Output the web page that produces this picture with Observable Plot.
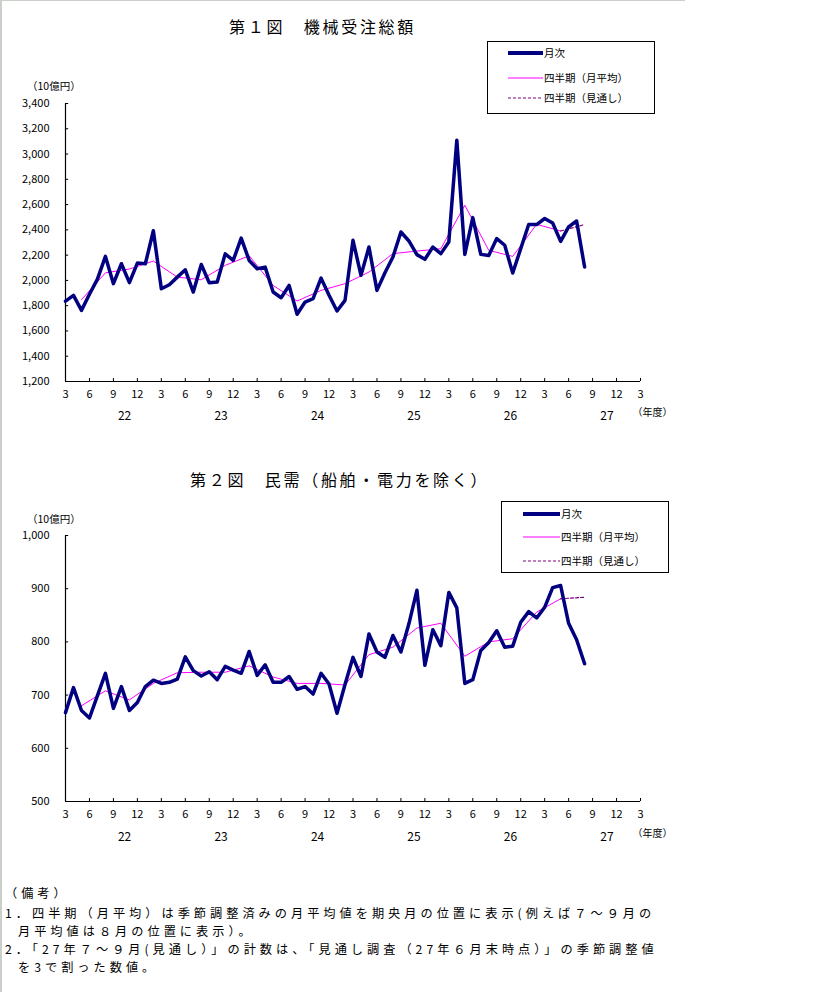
<!DOCTYPE html>
<html><head><meta charset="utf-8">
<script src="https://cdn.jsdelivr.net/npm/d3@7"></script>
<script src="https://cdn.jsdelivr.net/npm/@observablehq/plot@0.6"></script>
<style>
body{margin:0;background:#fff;font-family:"Noto Sans CJK JP",sans-serif;color:#000;}
#page{position:relative;width:819px;height:992px;overflow:hidden;background:#fff;}
.abs{position:absolute;white-space:nowrap;}
.title{font-size:16px;line-height:18px;letter-spacing:2.7px;}
.unit{font-size:10.5px;line-height:11px;}
.note{font-size:12.2px;line-height:14px;letter-spacing:4px;}
.lg{position:absolute;border:1px solid #000;box-sizing:border-box;background:#fff;}
.lgt{position:absolute;font-size:10.5px;line-height:12px;white-space:nowrap;}
</style></head><body><div id="page"></div>
<script>
// ---- data (monthly series start at March 2010, fiscal year 22) ----
const monthLabels = ["3","6","9","12"];
const fyLabels = ["22","23","24","25","26","27"];

const totalMonthly = [1836,1881,1763,1890,2010,2190,1974,2132,1982,2137,
  2132,2393,1934,1966,2026,2084,1908,2126,1982,1987,
  2210,2158,2335,2158,2092,2105,1908,1863,1960,1732,
  1829,1855,2018,1882,1758,1842,2317,2040,2264,1921,
  2060,2185,2383,2312,2204,2167,2264,2212,2304,3110,
  2206,2497,2206,2198,2331,2278,2058,2251,2442,2442,
  2490,2454,2309,2423,2470,2106];
const totalQuarterly = [1847,2060,2090,2153,2026,2005,2119,2195,1960,1837,
  1921,1974,2066,2212,2232,2251,2595,2238,2190,2444,2391];
const totalForecast = 2442;
const totalYTicks = [1200,1400,1600,1800,2000,2200,2400,2600,2800,3000,3200,3400];

const coreMonthly = [667,714,671,657,699,741,675,716,671,686,
  716,728,722,724,730,772,746,736,744,729,
  754,747,741,782,737,757,724,724,735,711,
  716,702,741,721,666,720,771,735,815,781,
  771,812,781,834,897,756,823,793,893,864,
  722,729,784,799,821,790,792,837,857,845,
  865,902,906,835,804,759];
const coreQuarterly = [680,708,691,722,742,743,743,755,734,722,
  722,719,776,790,826,835,773,800,806,856,881];
const coreForecast = 884;
const coreYTicks = [500,600,700,800,900,1000];

const legendLabels = ["月次","四半期（月平均）","四半期（見通し）"];
const NAVY = "#000080", PINK = "#ff00ff", PURPLE = "#800080";
const FONT = "'Noto Sans CJK JP', sans-serif";

const page = document.getElementById("page");
function abs(html, cls, left, top, extra) {
  const d = document.createElement("div");
  d.className = "abs " + cls;
  d.style.left = left + "px"; d.style.top = top + "px";
  if (extra) Object.assign(d.style, extra);
  d.innerHTML = html;
  page.appendChild(d);
  return d;
}

// frame lines
abs("", "", 0, 0, {width:"685px", height:"1px", background:"#c8d0c8"});
abs("", "", 0, 0, {width:"2px", height:"992px", background:"#c8d0c8"});

function makeChart(cfg) {
  const {monthly, quarterly, forecast, yTicks, top, height, marginTop, marginBottom, dyMonth, dyYear, dyUnit} = cfg;
  const yMin = yTicks[0], yMax = yTicks[yTicks.length - 1];
  const plotH = height - marginTop - marginBottom;
  const mData = monthly.map((v, i) => ({i, v}));
  const qData = quarterly.map((v, k) => ({i: 2 + 3 * k, v}));
  const fData = [qData[qData.length - 1], {i: monthly.length - 1, v: forecast}];
  const xTicks = d3.range(0, 73, 3).map(i => ({i, label: monthLabels[(i / 3) % 4]}));
  const years = fyLabels.map((t, k) => ({i: 7.4 + 12.08 * k, t}));
  const tickLen = (yMax - yMin) * 3 / plotH;
  const fmt = d3.format(",");
  const svg = Plot.plot({
    width: 819, height, marginLeft: 65, marginRight: 179, marginTop, marginBottom,
    style: {fontFamily: FONT, background: "transparent", overflow: "visible"},
    x: {domain: [0, 72], axis: null},
    y: {domain: [yMin, yMax], axis: null},
    marks: [
      Plot.ruleY([yMin], {x1: 0, x2: 72, stroke: "#000", strokeWidth: 1.2}),
      Plot.ruleX([0], {y1: yMin, y2: yMax, stroke: "#000", strokeWidth: 1.2}),
      Plot.ruleY(yTicks, {y: d => d, x1: 0, x2: 0.4, stroke: "#000"}),
      Plot.ruleX(xTicks, {x: "i", y1: yMin, y2: yMin + tickLen, stroke: "#000"}),
      Plot.text(yTicks, {x: 0, y: d => d, dx: -16, textAnchor: "end", text: d => fmt(d), fontSize: 11}),
      Plot.text(xTicks, {x: "i", y: yMin, dy: dyMonth, text: "label", fontSize: 11}),
      Plot.text(years, {x: "i", y: yMin, dy: dyYear, text: "t", fontSize: 12}),
      Plot.text(["（年度）"], {x: 72, y: yMin, dx: -8, dy: dyUnit, textAnchor: "start", fontSize: 10}),
      Plot.line(qData, {x: "i", y: "v", stroke: PINK, strokeWidth: 1}),
      Plot.line(fData, {x: "i", y: "v", stroke: PURPLE, strokeWidth: 1.2, strokeDasharray: "3,2"}),
      Plot.line(mData, {x: "i", y: "v", stroke: NAVY, strokeWidth: 3.5, strokeLinejoin: "round"})
    ]
  });
  const wrap = document.createElement("div");
  wrap.className = "abs";
  wrap.style.left = "0px"; wrap.style.top = top + "px";
  wrap.appendChild(svg);
  page.appendChild(wrap);
}

function legend(left, top, w, h, rows, sx1, sx2) {
  const box = document.createElement("div");
  box.className = "lg";
  Object.assign(box.style, {left: left + "px", top: top + "px", width: w + "px", height: h + "px"});
  const styles = [
    {stroke: NAVY, width: 4, dash: null},
    {stroke: PINK, width: 1, dash: null},
    {stroke: PURPLE, width: 1, dash: "3,2"}
  ];
  legendLabels.forEach((lab, k) => {
    const s = styles[k];
    const sw = document.createElementNS("http://www.w3.org/2000/svg", "svg");
    sw.setAttribute("width", sx2 - sx1); sw.setAttribute("height", 8);
    sw.style.position = "absolute"; sw.style.left = sx1 + "px"; sw.style.top = (rows[k] - 4) + "px";
    const ln = document.createElementNS("http://www.w3.org/2000/svg", "line");
    ln.setAttribute("x1", 0); ln.setAttribute("x2", sx2 - sx1); ln.setAttribute("y1", 4); ln.setAttribute("y2", 4);
    ln.setAttribute("stroke", s.stroke); ln.setAttribute("stroke-width", s.width);
    if (s.dash) ln.setAttribute("stroke-dasharray", s.dash);
    sw.appendChild(ln);
    box.appendChild(sw);
    const t = document.createElement("div");
    t.className = "lgt"; t.textContent = lab;
    t.style.left = (sx2 + 1) + "px"; t.style.top = (rows[k] - 6) + "px";
    box.appendChild(t);
  });
  page.appendChild(box);
}

// Chart 1
abs("第１図　機械受注総額", "title", 229, 17);
abs("（10億円）", "unit", 27, 80);
makeChart({monthly: totalMonthly, quarterly: totalQuarterly, forecast: totalForecast, yTicks: totalYTicks,
  top: 60, height: 380, marginTop: 43, marginBottom: 59, dyMonth: 13, dyYear: 35, dyUnit: 31});
legend(487, 41, 168, 73, [11, 36, 56], 20, 55);

// Chart 2
abs("第２図　民需（船舶・電力を除く）", "title", 190, 470);
abs("（10億円）", "unit", 27, 513);
makeChart({monthly: coreMonthly, quarterly: coreQuarterly, forecast: coreForecast, yTicks: coreYTicks,
  top: 500, height: 350, marginTop: 35, marginBottom: 49, dyMonth: 12.5, dyYear: 36, dyUnit: 32});
legend(501, 501, 168, 72, [12, 35, 59], 21, 58);

// Notes
const notes = [
  ["（備考）", 5, 886],
  ["1．四半期（月平均）は季節調整済みの月平均値を期央月の位置に表示(例えば７～９月の", 5, 906],
  ["月平均値は８月の位置に表示）。", 18, 924],
  ["2．「27年７～９月(見通し）」の計数は、「見通し調査（27年６月末時点）」の季節調整値", 5, 942],
  ["を3で割った数値。", 18, 960]
];
notes.forEach(([t, x, y]) => abs(t, "note", x, y));
</script></body></html>
